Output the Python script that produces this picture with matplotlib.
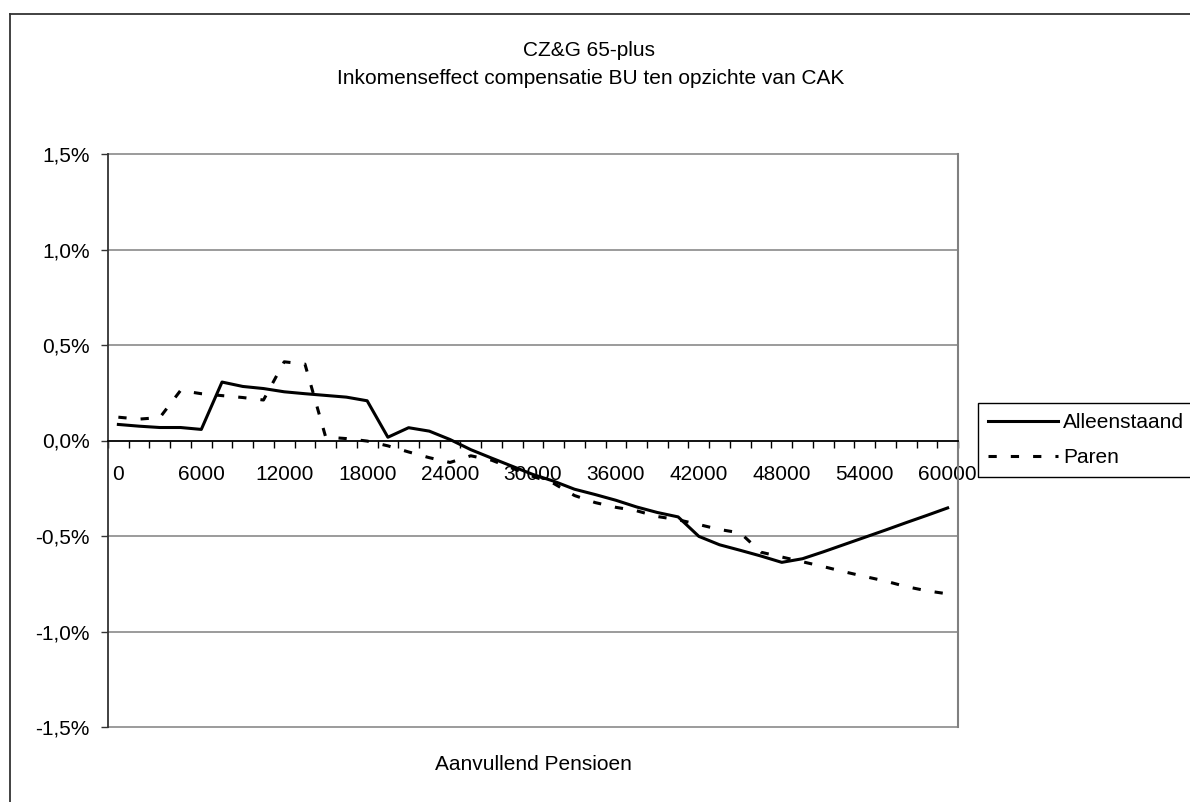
import matplotlib
matplotlib.use("Agg")
import matplotlib.pyplot as plt
from matplotlib.lines import Line2D

plt.rcParams['font.family'] = ['Liberation Sans', 'DejaVu Sans']

# Aanvullend pensioen (categorieen, stap 1500)
pensioen = list(range(0, 60001, 1500))

# Inkomenseffect in %
alleenstaand = [0.084, 0.075, 0.068, 0.068, 0.058, 0.306, 0.283, 0.272, 0.255, 0.245,
                0.236, 0.227, 0.208, 0.017, 0.067, 0.049, 0.005, -0.048, -0.092, -0.135,
                -0.178, -0.213, -0.255, -0.283, -0.313, -0.348, -0.377, -0.400, -0.502, -0.546,
                -0.575, -0.605, -0.638, -0.619, -0.583, -0.545, -0.507, -0.469, -0.430, -0.392,
                -0.353]
paren = [0.122, 0.112, 0.120, 0.262, 0.245, 0.235, 0.225, 0.212, 0.412, 0.400,
         0.018, 0.010, -0.003, -0.028, -0.060, -0.090, -0.115, -0.080, -0.103, -0.145,
         -0.188, -0.225, -0.288, -0.325, -0.350, -0.368, -0.398, -0.415, -0.440, -0.466,
         -0.484, -0.585, -0.610, -0.635, -0.660, -0.687, -0.712, -0.736, -0.765, -0.787,
         -0.803]

x_labels = ['0', '6000', '12000', '18000', '24000', '30000', '36000',
            '42000', '48000', '54000', '60000']
y_ticks = [-1.5, -1.0, -0.5, 0.0, 0.5, 1.0, 1.5]
y_labels = ['-1,5%', '-1,0%', '-0,5%', '0,0%', '0,5%', '1,0%', '1,5%']

W, H = 1190, 802
fig = plt.figure(figsize=(W / 100, H / 100), dpi=100)
ax = fig.add_axes([108 / W, 1 - 727 / H, 850 / W, 573 / H])

idx = list(range(len(pensioen)))
ax.plot(idx, alleenstaand, color='black', lw=2.2, label='Alleenstaand')
ax.plot(idx, paren, color='black', lw=2.2, dashes=(2.7, 4.6), label='Paren')

ax.set_xlim(-0.5, len(pensioen) - 0.5)
ax.set_ylim(-1.5, 1.5)

# gridlines and plot area border
for y in y_ticks:
    if y != 0:
        ax.axhline(y, color='#808080', lw=1.1, clip_on=False, zorder=0)
ax.spines['top'].set_visible(False)
ax.spines['right'].set_color('#808080')
ax.spines['right'].set_linewidth(1.5)
ax.spines['left'].set_color('#333333')
ax.spines['left'].set_linewidth(1.3)
ax.spines['bottom'].set_position(('data', 0))
ax.spines['bottom'].set_color('black')
ax.spines['bottom'].set_linewidth(1.3)

# x axis: tick marks between categories, labels every 6000
ax.set_xticks([i for i in idx if pensioen[i] % 6000 == 0])
ax.set_xticklabels(x_labels, fontsize=15)
ax.set_xticks([i - 0.5 for i in range(len(pensioen) + 1)], minor=True)
ax.tick_params(axis='x', which='major', length=0, pad=18)
ax.tick_params(axis='x', which='minor', length=5, width=1, direction='out')

ax.set_yticks(y_ticks)
ax.set_yticklabels(y_labels, fontsize=15)
ax.tick_params(axis='y', length=5, width=1, pad=8, color='#333333')

fig.text(589 / W, 1 - 51 / H, 'CZ&G 65-plus', ha='center', va='center', fontsize=15)
fig.text(591 / W, 1 - 78 / H, 'Inkomenseffect compensatie BU ten opzichte van CAK',
         ha='center', va='center', fontsize=15)
fig.text(533 / W, 1 - 765 / H, 'Aanvullend Pensioen', ha='center', va='center', fontsize=15)

# legend box runs past the right edge of the picture
leg = ax.legend(loc='upper left', mode='expand',
                bbox_to_anchor=(978 / W, 1 - 476 / H, 240 / W, 73 / H),
                bbox_transform=fig.transFigure, borderaxespad=0, fontsize=15,
                handlelength=3.35, handletextpad=0.25, borderpad=0.5,
                labelspacing=0.75, fancybox=False, framealpha=1)
leg.get_frame().set_edgecolor('black')
leg.get_frame().set_linewidth(1.0)

# outer chart frame (only left and top edges visible)
fig.add_artist(Line2D([10 / W, 10 / W], [0, 1 - 14 / H], color='#333333', lw=1.3))
fig.add_artist(Line2D([10 / W, 1], [1 - 14 / H, 1 - 14 / H], color='#333333', lw=1.3))

fig.savefig('out.png', dpi=100)
